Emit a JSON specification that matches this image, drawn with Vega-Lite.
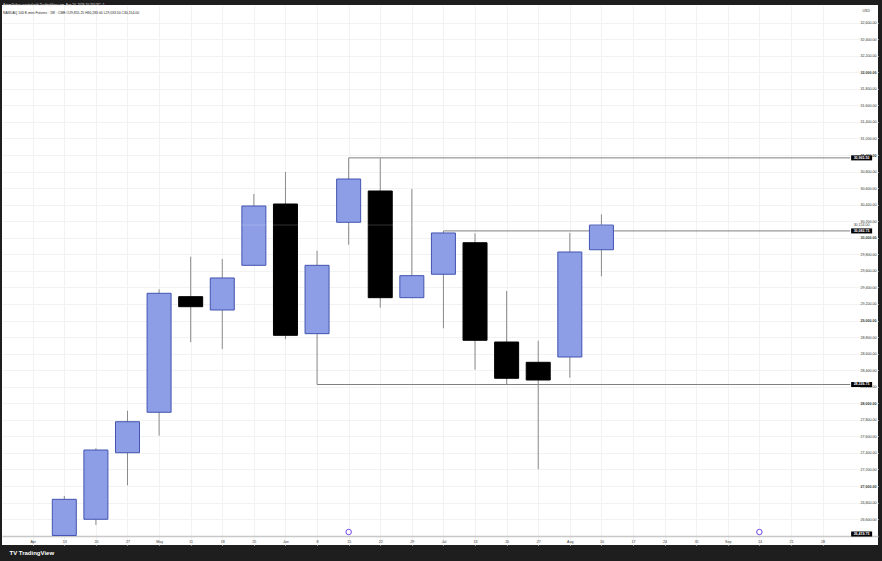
{
  "$schema": "https://vega.github.io/schema/vega-lite/v6.json",
  "width": 876,
  "height": 540,
  "autosize": {"type": "none"},
  "padding": {"left": 2, "top": 5, "right": 4, "bottom": 16},
  "background": "#1e1e1e",
  "config": {"view": {"fill": "#ffffff", "stroke": null}, "font": "Liberation Sans"},
  "title": {
    "text": "ArtemGabas created with TradingView.com, Aug 10, 2026 10:23 UTC+1",
    "subtitle": "NASDAQ 100 E-mini Futures · 1W · CME   O29,855.25 H30,283.00 L29,533.50 C30,154.00",
    "anchor": "start",
    "frame": "group",
    "orient": "top",
    "offset": -9,
    "dx": 1,
    "fontSize": 3.2,
    "fontWeight": "normal",
    "color": "#e8e8e8",
    "font": "Liberation Sans",
    "subtitleFont": "Liberation Sans",
    "subtitleFontSize": 3.4,
    "subtitleColor": "#222222",
    "subtitlePadding": 5
  },
  "datasets": {
    "candles": [
      {"date": "2026-04-13", "open": 26402, "high": 26879, "low": 26402, "close": 26839},
      {"date": "2026-04-20", "open": 26598, "high": 27456, "low": 26529, "close": 27435},
      {"date": "2026-04-27", "open": 27402, "high": 27910, "low": 27008, "close": 27777},
      {"date": "2026-05-04", "open": 27891, "high": 29377, "low": 27608, "close": 29329},
      {"date": "2026-05-11", "open": 29288, "high": 29771, "low": 28737, "close": 29167},
      {"date": "2026-05-18", "open": 29127, "high": 29743, "low": 28656, "close": 29514},
      {"date": "2026-05-25", "open": 29667, "high": 30529, "low": 29660, "close": 30384},
      {"date": "2026-06-01", "open": 30408, "high": 30795, "low": 28773, "close": 28821},
      {"date": "2026-06-08", "open": 28841, "high": 29843, "low": 28226.75, "close": 29667},
      {"date": "2026-06-15", "open": 30187, "high": 30965.5, "low": 29916, "close": 30710},
      {"date": "2026-06-22", "open": 30565, "high": 30960, "low": 29155, "close": 29276},
      {"date": "2026-06-29", "open": 29276, "high": 30590, "low": 29270, "close": 29542},
      {"date": "2026-07-06", "open": 29559, "high": 30082.75, "low": 28906, "close": 30058},
      {"date": "2026-07-13", "open": 29940, "high": 30054, "low": 28406, "close": 28761},
      {"date": "2026-07-20", "open": 28740, "high": 29357, "low": 28230, "close": 28302},
      {"date": "2026-07-27", "open": 28495, "high": 28756, "low": 27202, "close": 28281},
      {"date": "2026-08-03", "open": 28559, "high": 30058, "low": 28309, "close": 29828},
      {"date": "2026-08-10", "open": 29855.25, "high": 30283, "low": 29533.5, "close": 30154}
    ],
    "levels": [
      {"start": "2026-06-15", "price": 30965.5},
      {"start": "2026-07-06", "price": 30082.75},
      {"start": "2026-06-08", "price": 28226.75}
    ],
    "boxes": [
      {"price": 30965.5},
      {"price": 30082.75},
      {"price": 28226.75},
      {"price": 26419.75}
    ],
    "last": [{"price": 30154}],
    "events": [{"date": "2026-06-15"}, {"date": "2026-09-14"}]
  },
  "layer": [
    {
      "data": {"name": "candles"},
      "mark": {"type": "rule", "color": "#8a8a8a", "strokeWidth": 1},
      "encoding": {
        "x": {
          "field": "date", "type": "temporal",
          "scale": {"type": "utc", "domain": [1774941587000, 1791518861000], "nice": false},
          "axis": {
            "title": "TV TradingView",
            "values": [1775433600000, 1776038400000, 1776643200000, 1777248000000, 1777852800000, 1778457600000, 1779062400000, 1779667200000, 1780272000000, 1780876800000, 1781481600000, 1782086400000, 1782691200000, 1783296000000, 1783900800000, 1784505600000, 1785110400000, 1785715200000, 1786320000000, 1786924800000, 1787529600000, 1788134400000, 1788739200000, 1789344000000, 1789948800000, 1790553600000],
            "tickCount": 100,
            "labelExpr": "utcdate(datum.value) <= 7 ? utcFormat(datum.value, '%b') : '' + utcdate(datum.value)",
            "offset": -9,
            "ticks": false,
            "tickSize": 0,
            "labelPadding": 3,
            "labelFontSize": 3.6,
            "labelColor": "#3a3a3a",
            "labelFlush": false,
            "labelOverlap": false,
            "domainColor": "#c8c8c8",
            "domainWidth": 1.5,
            "gridColor": "#f2f2f2",
            "gridWidth": 1,
            "titleX": 7,
            "titleY": 16.5,
            "titleAlign": "left",
            "titleBaseline": "middle",
            "titleFontSize": 6,
            "titleFontWeight": "bold",
            "titleColor": "#ffffff"
          }
        },
        "y": {
          "field": "low", "type": "quantitative",
          "scale": {"domain": [26287, 32813], "nice": false, "zero": false},
          "axis": {
            "orient": "right",
            "offset": -23,
            "values": [26600, 26800, 27000, 27200, 27400, 27600, 27800, 28000, 28200, 28400, 28600, 28800, 29000, 29200, 29400, 29600, 29800, 30000, 30200, 30400, 30600, 30800, 31000, 31200, 31400, 31600, 31800, 32000, 32200, 32400, 32600],
            "tickCount": 100,
            "format": ",.2f",
            "ticks": false,
            "tickSize": 0,
            "domain": false,
            "labelPadding": 5,
            "labelFontSize": 3.6,
            "labelColor": "#3a3a3a",
            "labelAlign": "left",
            "labelFontWeight": {"condition": {"test": "datum.value % 1000 === 0", "value": "bold"}, "value": "normal"},
            "labelFlush": false,
            "labelOverlap": false,
            "gridColor": "#f2f2f2",
            "gridWidth": 1,
            "title": "USD",
            "titleAngle": 0,
            "titleX": 7,
            "titleY": 5,
            "titleAlign": "left",
            "titleBaseline": "middle",
            "titleFontSize": 3.6,
            "titleFontWeight": "normal",
            "titleColor": "#3a3a3a"
          }
        },
        "y2": {"field": "high"}
      }
    },
    {
      "data": {"name": "levels"},
      "mark": {"type": "rule", "color": "#808080", "strokeWidth": 1},
      "encoding": {
        "x": {"field": "start", "type": "temporal", "scale": {"type": "utc", "domain": [1774941587000, 1791518861000], "nice": false}},
        "x2": {"datum": {"year": 2026, "month": 10, "date": 4, "hours": 3, "utc": true}},
        "y": {"field": "price", "type": "quantitative", "scale": {"domain": [26287, 32813], "nice": false, "zero": false}}
      }
    },
    {
      "data": {"name": "candles"},
      "mark": {"type": "bar", "size": 24, "strokeWidth": 1},
      "encoding": {
        "x": {"field": "date", "type": "temporal", "scale": {"type": "utc", "domain": [1774941587000, 1791518861000], "nice": false}},
        "y": {"field": "open", "type": "quantitative", "scale": {"domain": [26287, 32813], "nice": false, "zero": false}},
        "y2": {"field": "close"},
        "fill": {"condition": {"test": "datum.close >= datum.open", "value": "#8d9de6"}, "value": "#000000"},
        "stroke": {"condition": {"test": "datum.close >= datum.open", "value": "#4254b0"}, "value": "#000000"}
      }
    },
    {
      "data": {"name": "last"},
      "mark": {"type": "rule", "color": "#ffffff", "opacity": 0.2, "strokeWidth": 1},
      "encoding": {
        "y": {"field": "price", "type": "quantitative", "scale": {"domain": [26287, 32813], "nice": false, "zero": false}}
      }
    },
    {
      "data": {"name": "events"},
      "mark": {"type": "point", "shape": "circle", "fill": "#ffffff", "stroke": "#7346e0", "strokeWidth": 1, "size": 30, "opacity": 1},
      "encoding": {
        "x": {"field": "date", "type": "temporal", "scale": {"type": "utc", "domain": [1774941587000, 1791518861000], "nice": false}},
        "y": {"datum": 26444, "type": "quantitative", "scale": {"domain": [26287, 32813], "nice": false, "zero": false}}
      }
    },
    {
      "data": {"name": "boxes"},
      "mark": {"type": "point", "shape": "M-1,-0.24L1,-0.24L1,0.24L-1,0.24Z", "size": 441, "filled": true, "color": "#000000", "opacity": 1},
      "encoding": {
        "x": {"datum": {"year": 2026, "month": 10, "date": 6, "hours": 15, "minutes": 39, "utc": true}, "type": "temporal", "scale": {"type": "utc", "domain": [1774941587000, 1791518861000], "nice": false}},
        "y": {"field": "price", "type": "quantitative", "scale": {"domain": [26287, 32813], "nice": false, "zero": false}}
      }
    },
    {
      "data": {"name": "boxes"},
      "mark": {"type": "text", "color": "#ffffff", "fontSize": 3.6, "align": "center", "baseline": "middle", "fontWeight": "bold"},
      "encoding": {
        "x": {"datum": {"year": 2026, "month": 10, "date": 6, "hours": 15, "minutes": 39, "utc": true}, "type": "temporal", "scale": {"type": "utc", "domain": [1774941587000, 1791518861000], "nice": false}},
        "y": {"field": "price", "type": "quantitative", "scale": {"domain": [26287, 32813], "nice": false, "zero": false}},
        "text": {"field": "price", "type": "quantitative", "format": ",.2f"}
      }
    },
    {
      "data": {"name": "last"},
      "mark": {"type": "text", "color": "#3a3a3a", "fontSize": 3.6, "align": "center", "baseline": "middle"},
      "encoding": {
        "x": {"datum": {"year": 2026, "month": 10, "date": 6, "hours": 15, "minutes": 39, "utc": true}, "type": "temporal", "scale": {"type": "utc", "domain": [1774941587000, 1791518861000], "nice": false}},
        "y": {"field": "price", "type": "quantitative", "scale": {"domain": [26287, 32813], "nice": false, "zero": false}},
        "text": {"field": "price", "type": "quantitative", "format": ",.2f"}
      }
    }
  ]
}
